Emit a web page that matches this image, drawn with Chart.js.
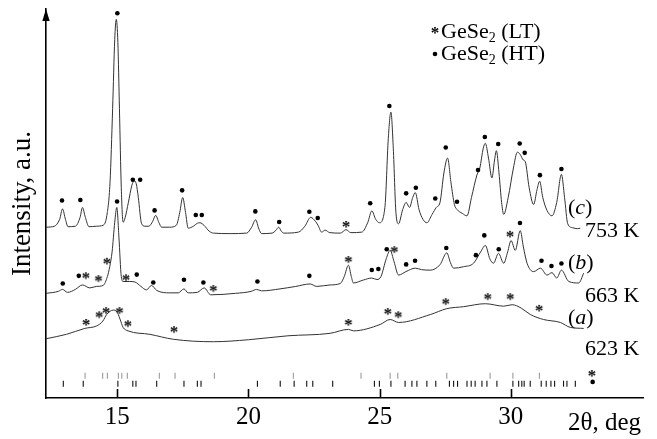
<!DOCTYPE html>
<html><head><meta charset="utf-8">
<script src="https://cdn.jsdelivr.net/npm/chart.js@4/dist/chart.umd.min.js"></script>
<style>html,body{margin:0;padding:0;background:#fff}#wrap{width:657px;height:439px}</style>
</head><body><div id="wrap"><canvas id="c" width="657" height="439"></canvas></div>
<script>
// 2theta (deg), intensity (a.u., curves offset as in the figure)
const curve753K = [[12.28,173],[12.6,174],[12.8,181],[12.91,191.5],[13.02,181],[13.12,173.5],[13.4,174],[13.58,183],[13.67,193],[13.78,183],[13.92,173.5],[14.2,174],[14.46,175],[14.6,185],[14.72,218],[14.82,293],[14.9,363],[14.96,383.5],[15.02,360],[15.08,293],[15.15,213],[15.22,178],[15.3,183],[15.42,198],[15.55,215],[15.64,220],[15.72,217],[15.8,203],[15.92,177],[16.05,174],[16.2,174],[16.35,179],[16.46,185],[16.58,178],[16.69,173],[17.0,173],[17.25,175],[17.38,188],[17.49,203],[17.6,188],[17.7,172],[17.9,174],[18.05,177],[18.15,177.5],[18.3,175],[18.5,169],[18.66,167],[19.3,166.5],[19.93,167],[20.12,173],[20.27,180.5],[20.4,171],[20.5,166.5],[20.9,167],[21.05,170],[21.15,173],[21.25,169],[21.35,167],[21.9,168],[22.15,174],[22.37,183],[22.55,179],[22.65,175],[22.79,168],[22.92,170],[23.1,167.5],[23.5,167],[23.72,170.5],[23.9,167.5],[24.32,168],[24.55,178],[24.7,189.5],[24.85,181],[24.99,177.5],[25.2,193],[25.33,263],[25.43,289.5],[25.52,253],[25.62,188],[25.72,176.5],[25.88,191],[26.01,198],[26.14,193],[26.26,203],[26.36,208],[26.5,191],[26.65,181],[26.8,177.5],[27.0,186],[27.16,193],[27.3,198],[27.45,228],[27.59,243],[27.72,218],[27.85,196],[27.95,191],[28.15,187],[28.33,184.5],[28.5,203],[28.71,226],[28.82,233],[28.95,253],[29.03,258],[29.15,243],[29.28,223],[29.38,241],[29.45,250.5],[29.55,228],[29.65,198],[29.73,186],[29.9,203],[30.1,233],[30.25,249],[30.35,247],[30.48,241],[30.55,239.5],[30.7,213],[30.87,196],[31.0,211],[31.1,219.5],[31.22,203],[31.38,190],[31.57,184.5],[31.75,198],[31.93,226.5],[32.05,203],[32.17,176.5],[32.35,172.5],[32.55,171.5],[32.65,172]];
const curve663K = [[12.28,106],[12.75,108],[12.91,110],[13.1,107],[13.4,110],[13.67,114.5],[13.95,111.5],[14.2,113],[14.46,114],[14.62,123],[14.71,133],[14.8,148],[14.9,178],[14.98,193],[15.06,163],[15.15,123],[15.22,118],[15.45,118],[15.67,117.5],[15.9,113],[16.11,109.5],[16.3,114],[16.5,109],[17.0,106.5],[17.32,106.5],[17.54,110.5],[17.7,106.5],[18.05,107],[18.31,111.5],[18.56,104.5],[19.5,106],[20.1,108],[20.31,110],[20.5,108.5],[21.2,110.5],[21.8,113],[22.35,115.5],[22.6,113],[23.11,114.5],[23.5,116],[23.65,123],[23.81,134.5],[23.92,123],[24.0,116.5],[24.38,119.5],[24.7,121.5],[24.9,120],[25.05,123],[25.25,141],[25.4,149.5],[25.55,138],[25.72,124.5],[26.0,128],[26.36,131.5],[26.6,130],[26.93,129.5],[27.3,135],[27.56,147],[27.7,137],[27.82,131.5],[28.2,133],[28.58,136.5],[28.85,148],[29.03,154.5],[29.2,141],[29.34,136.5],[29.53,146.5],[29.73,136.5],[29.88,148],[30.01,159.5],[30.17,149.5],[30.36,169.5],[30.48,153],[30.62,136.5],[30.87,128],[31.13,131.5],[31.38,124.5],[31.57,127],[31.75,121.5],[31.93,129.5],[32.21,118],[32.59,116.5],[32.78,126.5]];
const curve623K = [[12.28,60],[13.06,64.5],[13.76,70.5],[14.21,73],[14.45,78],[14.59,84.5],[14.84,89],[14.97,88],[15.1,80],[15.22,71.5],[15.41,68],[16.24,64.5],[17.13,59.5],[18.66,57],[20.0,59],[21.5,63],[23.11,65.5],[23.81,69.5],[24.0,68],[25.02,74.5],[25.4,79.5],[25.72,76.5],[26.93,84.5],[27.56,90.5],[28.2,92.5],[29.03,95.5],[29.73,93],[30.05,94.5],[30.4,91],[30.75,84.5],[31.25,79.5],[31.89,76.5],[32.27,71.5],[32.78,70.5]];

// peak assignments: HT phase (dots), LT phase (asterisks)
const htMarks753K = [[12.89,200],[13.59,200.5],[15.0,389.7],[15.59,221],[15.87,221],[16.42,190],[17.47,210.3],[17.99,185.3],[18.22,185.3],[20.26,189],[21.17,178.3],[22.32,188.7],[22.64,182.3],[24.64,197.3],[25.37,295.7],[26.01,207.3],[26.38,213],[27.12,202],[27.52,253.7],[27.95,198.7],[28.75,231],[29.01,264.3],[29.52,257.3],[30.34,257.7],[30.53,248.3],[31.11,225.7],[31.93,232]];
const ltMarks753K = [[23.72,176.3]];
const htMarks663K = [[12.92,116],[13.53,123.7],[14.99,199],[15.74,125],[16.37,117],[17.54,119.7],[18.28,117],[20.34,118],[22.32,123.7],[24.7,129.7],[24.95,130.7],[25.27,150.7],[26.01,135.3],[26.35,139],[27.54,152],[28.67,144.7],[28.99,164.7],[29.54,150.7],[30.35,177.3],[31.17,139],[31.55,133.7],[31.93,136.3]];
const ltMarks663K = [[13.8,124.3],[14.28,121.3],[14.6,139],[15.33,122.3],[18.66,111.3],[23.81,140.7],[25.56,150.7],[29.97,166.3]];
const ltMarks623K = [[13.81,77],[14.31,84.7],[14.57,89],[15.08,89],[15.4,75.7],[17.16,69.7],[23.81,77],[25.31,88],[25.71,84.7],[27.52,98],[29.12,103],[29.98,103],[31.08,91.3]];

// reference line positions (2theta)
const ltRefLines = [13.77,14.44,14.62,15.04,15.17,15.38,16.60,17.20,18.70,21.71,24.29,25.40,25.69,27.56,29.21,30.08,31.09];
const htRefLines = [12.94,13.70,15.02,15.59,15.71,16.50,17.54,18.05,18.19,20.34,21.21,21.74,22.22,22.45,23.21,24.80,24.99,25.43,25.97,26.23,26.42,26.80,27.14,27.66,27.82,27.97,28.33,28.49,28.64,28.90,29.09,29.47,30.08,30.30,30.42,30.51,30.74,31.16,31.35,31.53,31.67,32.01,32.14,32.46];
const ltRefLevel = 22.5, htRefLevel = 14.5;
const refKeyLT = [[33.09,25.3]], refKeyHT = [[33.12,16.3]];

const xTicks = [15,20,25,30];
const xRange = [12.28, 35.04];
const yRange = [0, 394];

const SERIF = '"Liberation Serif", "Times New Roman", serif';
const pts = a => a.map(([x,y]) => ({x, y}));

function makeStar(){
  const c = document.createElement('canvas'); c.width = 12; c.height = 12;
  const g = c.getContext('2d');
  g.font = 'bold 17px ' + SERIF; g.textAlign = 'center'; g.textBaseline = 'alphabetic'; g.fillStyle = '#000';
  const m = g.measureText('*');
  const y = 6 + (m.actualBoundingBoxAscent - m.actualBoundingBoxDescent) / 2;
  g.fillText('*', 6, y);
  return c;
}
const star = makeStar();

const curveStyle = {type:'line', borderColor:'#333', borderWidth:1, pointRadius:0, fill:false, cubicInterpolationMode:'monotone', order:2};
const dotStyle = {pointStyle:'circle', pointRadius:2.3, backgroundColor:'#000', borderColor:'#000', borderWidth:0, order:1};
const starStyle = {pointStyle:star, pointRadius:6, order:1};
const lineStyle = (col) => ({pointStyle:'line', rotation:90, pointRadius:3, borderColor:col, borderWidth:1.1, order:1});

const decor = {
  id:'decor',
  afterDraw(chart){
    const {ctx, chartArea:a, scales:{x}} = chart;
    ctx.save();
    ctx.strokeStyle = '#000'; ctx.fillStyle = '#000'; ctx.lineWidth = 1.6;
    xTicks.forEach(v => { const px = Math.round(x.getPixelForValue(v)) + 0.5; ctx.beginPath(); ctx.moveTo(px, a.bottom); ctx.lineTo(px, a.bottom - 9); ctx.stroke(); });
    ctx.beginPath(); ctx.moveTo(a.left, a.top); ctx.lineTo(a.left - 3.7, a.top + 12); ctx.lineTo(a.left + 3.7, a.top + 12); ctx.closePath(); ctx.fill();
    ctx.textBaseline = 'alphabetic'; ctx.textAlign = 'left';
    const seq = (parts, x0, y0) => { let xx = x0; parts.forEach(([t, f, dy]) => { ctx.font = f; ctx.fillText(t, xx, y0 + (dy||0)); xx += ctx.measureText(t).width; }); };
    const n22 = '22px ' + SERIF, i22 = 'italic 22px ' + SERIF, s14 = '14px ' + SERIF;
    ctx.drawImage(star, 429, 24);
    seq([['GeSe', n22],['2', s14, 4],[' (LT)', n22]], 441, 38);
    ctx.beginPath(); ctx.arc(435, 54, 2.3, 0, Math.PI*2); ctx.fill();
    seq([['GeSe', n22],['2', s14, 4],[' (HT)', n22]], 441, 60);
    seq([['(', n22],['c', i22],[')', n22]], 568, 214);
    seq([['753 K', n22]], 585, 237);
    seq([['(', n22],['b', i22],[')', n22]], 568, 269);
    seq([['663 K', n22]], 585, 302);
    seq([['(', n22],['a', i22],[')', n22]], 568, 324);
    seq([['623 K', n22]], 585, 355);
    seq([['2θ, deg', '25px ' + SERIF]], 568, 430);
    ctx.restore();
  }
};

new Chart(document.getElementById('c'), {
  type:'scatter',
  data:{datasets:[
    Object.assign({label:'753 K', data:pts(curve753K)}, curveStyle),
    Object.assign({label:'663 K', data:pts(curve663K)}, curveStyle),
    Object.assign({label:'623 K', data:pts(curve623K)}, curveStyle),
    Object.assign({label:'HT 753', data:pts(htMarks753K)}, dotStyle),
    Object.assign({label:'HT 663', data:pts(htMarks663K)}, dotStyle),
    Object.assign({label:'LT 753', data:pts(ltMarks753K)}, starStyle),
    Object.assign({label:'LT 663', data:pts(ltMarks663K)}, starStyle),
    Object.assign({label:'LT 623', data:pts(ltMarks623K)}, starStyle),
    Object.assign({label:'LT ref', data:ltRefLines.map(v => ({x:v, y:ltRefLevel}))}, lineStyle('#9a9a9a')),
    Object.assign({label:'HT ref', data:htRefLines.map(v => ({x:v, y:htRefLevel}))}, lineStyle('#111')),
    Object.assign({label:'LT key', data:pts(refKeyLT)}, starStyle),
    Object.assign({label:'HT key', data:pts(refKeyHT)}, dotStyle)
  ]},
  options:{
    responsive:false, animation:false, events:[],
    layout:{padding:{top:9, right:14, bottom:3, left:0}},
    plugins:{legend:{display:false}, tooltip:{enabled:false}},
    scales:{
      x:{type:'linear', min:xRange[0], max:xRange[1],
        afterBuildTicks:s => { s.ticks = xTicks.map(v => ({value:v})); },
        grid:{display:false, drawTicks:false},
        border:{display:true, color:'#000', width:1.6},
        ticks:{font:{family:SERIF, size:25}, color:'#000', padding:4, maxRotation:0, autoSkip:false}},
      y:{type:'linear', min:yRange[0], max:yRange[1],
        ticks:{display:false}, grid:{display:false, drawTicks:false},
        border:{display:true, color:'#000', width:1.6},
        title:{display:true, text:'Intensity, a.u.', color:'#000', font:{family:SERIF, size:27, lineHeight:1}, padding:{top:9, bottom:10}}}
    }
  },
  plugins:[decor]
});
</script>
</body></html>
